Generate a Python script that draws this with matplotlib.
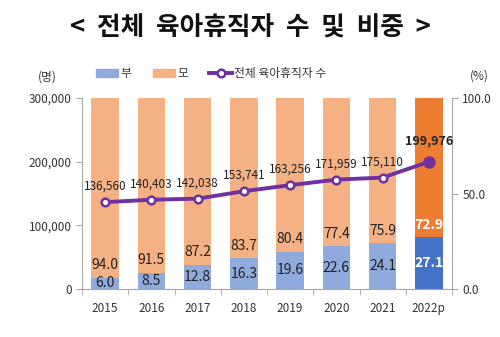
import matplotlib
matplotlib.use('Agg')
import matplotlib.pyplot as plt
from matplotlib.lines import Line2D
from matplotlib.patches import Patch

plt.rcParams['font.family'] = ['Noto Sans CJK KR', 'DejaVu Sans']

years = ['2015', '2016', '2017', '2018', '2019', '2020', '2021', '2022p']
father_pct = [6.0, 8.5, 12.8, 16.3, 19.6, 22.6, 24.1, 27.1]
mother_pct = [94.0, 91.5, 87.2, 83.7, 80.4, 77.4, 75.9, 72.9]
total = [136560, 140403, 142038, 153741, 163256, 171959, 175110, 199976]

c_father = '#8FAADC'
c_mother = '#F4B183'
c_father_hl = '#4472C4'
c_mother_hl = '#ED7D31'
c_line = '#7030A0'
c_axis = '#A6A6A6'
c_text = '#333333'

fig = plt.figure(figsize=(5, 3.37), dpi=100)
ax = fig.add_axes([0.164, 0.142, 0.740, 0.567])
ax2 = ax.twinx()

x = list(range(len(years)))
fcol = [c_father] * (len(years) - 1) + [c_father_hl]
mcol = [c_mother] * (len(years) - 1) + [c_mother_hl]

# share bars (percent scale), ticks shown on the right
ax.bar(x, father_pct, width=0.59, color=fcol, zorder=2)
ax.bar(x, mother_pct, bottom=father_pct, width=0.59, color=mcol, zorder=2)
ax.set_ylim(0, 100)
ax.set_xlim(-0.5, len(years) - 0.5)
ax.yaxis.tick_right()
ax.set_yticks([0, 50, 100])
ax.set_yticklabels(['0.0', '50.0', '100.0'])

for i in x:
    last = i == len(years) - 1
    tc = 'white' if last else '#222222'
    fw = 'bold' if last else 'normal'
    ax.text(i, father_pct[i] / 2, f'{father_pct[i]:.1f}', ha='center', va='center',
            fontsize=10, color=tc, fontweight=fw, zorder=3)
    ax.text(i, father_pct[i] + 6.5, f'{mother_pct[i]:.1f}', ha='center', va='center',
            fontsize=10, color=tc, fontweight=fw, zorder=3)

# total count line, ticks shown on the left
ax2.plot(x, total, color=c_line, lw=2.8, zorder=4, solid_capstyle='round')
ax2.plot(x[:-1], total[:-1], 'o', ms=5.5, mfc='white', mec=c_line, mew=1.8, zorder=5)
ax2.plot(x[-1], total[-1], 'o', ms=8, mfc=c_line, mec=c_line, zorder=5)
ax2.set_ylim(0, 300000)
ax2.yaxis.tick_left()
ax2.set_yticks([0, 100000, 200000, 300000])
ax2.set_yticklabels(['0', '100,000', '200,000', '300,000'])

for i in x:
    last = i == len(years) - 1
    ax2.text(i, total[i] + (33000 if last else 24500), f'{total[i]:,}', ha='center', va='center',
             fontsize=8.5 if not last else 9, color='#222222',
             fontweight='bold' if last else 'normal', zorder=6)

ax.set_xticks(x)
ax.set_xticklabels(years)
ax.set_xticks([i + 0.5 for i in range(-1, len(years))], minor=True)
ax.tick_params(axis='x', which='major', length=0, labelsize=8.5, pad=9, colors=c_text)
ax.tick_params(axis='x', which='minor', length=4, color=c_axis)
ax.tick_params(axis='y', length=4, color=c_axis, labelsize=8.5, labelcolor=c_text)
ax2.tick_params(axis='y', length=4, color=c_axis, labelsize=8.5, labelcolor=c_text)
for a in (ax, ax2):
    for s in a.spines.values():
        s.set_visible(False)
for side in ('left', 'right', 'bottom'):
    ax2.spines[side].set_visible(True)
    ax2.spines[side].set_color(c_axis)

fig.text(0.5, 0.918, '<  전체  육아휴직자  수  및  비중  >', ha='center', va='center',
         fontsize=18.5, fontweight='bold', color='#111111')
fig.text(0.095, 0.77, '(명)', ha='center', va='center', fontsize=8.5, color=c_text)
fig.text(0.958, 0.775, '(%)', ha='center', va='center', fontsize=8.5, color=c_text)

handles = [Patch(color=c_father), Patch(color=c_mother),
           Line2D([0], [0], color=c_line, lw=2.8, marker='o', ms=5.5, mfc='white', mec=c_line, mew=1.8)]
fig.legend(handles, ['부', '모', '전체 육아휴직자 수'], loc='center left', bbox_to_anchor=(0.17, 0.782),
           ncol=3, frameon=False, fontsize=8.5, handlelength=1.9, handleheight=0.6,
           handletextpad=0.2, columnspacing=1.8, labelcolor=c_text)

fig.savefig('out.png', dpi=100)
